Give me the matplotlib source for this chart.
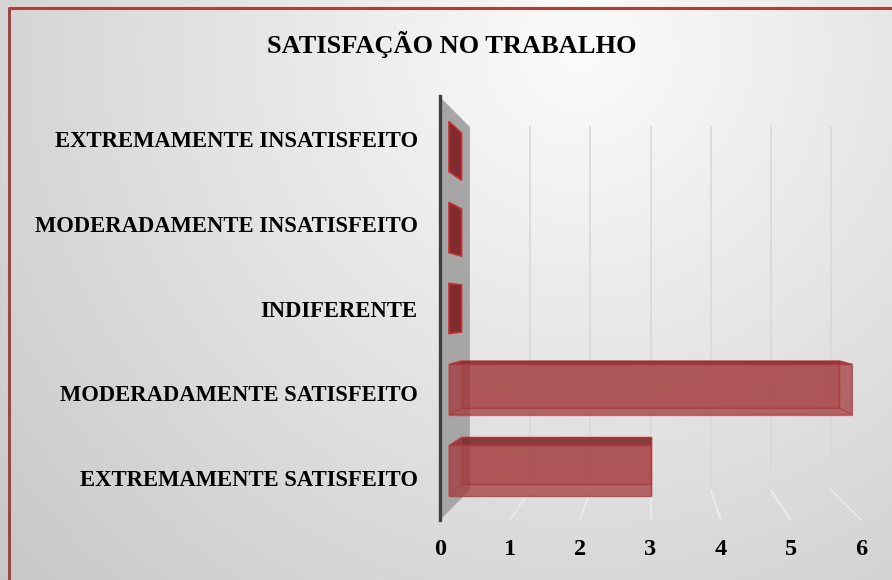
import numpy as np
import matplotlib
matplotlib.use("Agg")
from matplotlib import pyplot as plt
from matplotlib.patches import Polygon

categories = ['EXTREMAMENTE INSATISFEITO', 'MODERADAMENTE INSATISFEITO',
              'INDIFERENTE', 'MODERADAMENTE SATISFEITO', 'EXTREMAMENTE SATISFEITO']
values = [0, 0, 0, 6, 3]
xticks = [0, 1, 2, 3, 4, 5, 6]
title = 'SATISFAÇÃO NO TRABALHO'

plt.rcParams['font.family'] = ['Liberation Serif', 'DejaVu Serif']

W, H = 892, 580
fig = plt.figure(figsize=(W / 100, H / 100), dpi=100)

# background: soft radial gradient
bg = fig.add_axes([0, 0, 1, 1], zorder=-10)
yy, xx = np.mgrid[0:H, 0:W]
r = np.sqrt(((xx - 580) / 620.0) ** 2 + ((yy - 50) / 620.0) ** 2)
shade = np.clip(0.985 - 0.16 * r, 0.78, 1.0)
bg.imshow(np.dstack([shade] * 3), extent=[0, W, H, 0], aspect='auto')
bg.set_xlim(0, W)
bg.set_ylim(H, 0)
bg.axis('off')
bg.plot([9, 9, W + 5], [H + 5, 8, 8], color='#a8423f', lw=2.2, solid_capstyle='butt')

# main axes = front plane of the 3d box
x0, x1, y0, y1 = 440, 861, 97, 520
ax = fig.add_axes([x0 / W, 1 - y1 / H, (x1 - x0) / W, (y1 - y0) / H])
ax.set_facecolor('none')
n = len(categories)
vmax = xticks[-1]
ax.set_xlim(0, vmax)
ax.set_ylim(n - 0.5, -0.5)
for s in ax.spines.values():
    s.set_visible(False)

cx, cy = vmax / 2, (n - 1) / 2
shrink = 0.142


def proj(v, c, d):
    s = 1 - shrink * d
    return (cx + (v - cx) * s, cy + (c - cy) * s)


# side wall
wall = [proj(0, -0.5, 0), proj(0, -0.5, 1), proj(0, n - 0.5, 1), proj(0, n - 0.5, 0)]
ax.add_patch(Polygon(wall, closed=True, facecolor='#a6a6a6', edgecolor='none', zorder=1))
ax.plot([0, 0], [-0.51, n - 0.5], color='#3f3f3f', lw=2.4, zorder=2, clip_on=False)

# gridlines on back wall and floor
for v in xticks[1:]:
    top_pt, bot_pt, front_pt = proj(v, -0.5, 1), proj(v, n - 0.5, 1), proj(v, n - 0.5, 0)
    ax.plot([top_pt[0], bot_pt[0]], [top_pt[1], bot_pt[1]], color='#d9d9d9', lw=1.2, zorder=1)
    ax.plot([bot_pt[0], front_pt[0]], [bot_pt[1], front_pt[1]], color='#ececec', lw=1.2,
            zorder=1)

# bars as translucent boxes
df, db, h = 0.30, 0.72, 0.31
face = (0.63, 0.20, 0.21)
edge = '#b53434'
for i, v in enumerate(values):
    sf, sb = 1 - shrink * df, 1 - shrink * db
    if v == 0:
        side = [proj(0, i - h, df), proj(0, i - h, db), proj(0, i + h, db), proj(0, i + h, df)]
        ax.add_patch(Polygon(side, closed=True, facecolor='#7e2c2e', edgecolor='#c8302f',
                             lw=1.2, zorder=3))
        continue
    # back face
    ax.barh(proj(0, i, db)[1], v * sb, left=proj(0, i, db)[0], height=2 * h * sb,
            color=face, alpha=0.55, edgecolor=edge, lw=1.0, zorder=3)
    # top, bottom, left, right faces
    top = [proj(0, i - h, df), proj(v, i - h, df), proj(v, i - h, db), proj(0, i - h, db)]
    bot = [proj(0, i + h, df), proj(v, i + h, df), proj(v, i + h, db), proj(0, i + h, db)]
    lef = [proj(0, i - h, df), proj(0, i - h, db), proj(0, i + h, db), proj(0, i + h, df)]
    rig = [proj(v, i - h, df), proj(v, i - h, db), proj(v, i + h, db), proj(v, i + h, df)]
    ax.add_patch(Polygon(top, closed=True, facecolor=(0.45, 0.12, 0.13), alpha=0.7,
                         edgecolor=edge, lw=1.0, zorder=4))
    for poly in (bot, lef, rig):
        ax.add_patch(Polygon(poly, closed=True, facecolor=face, alpha=0.35,
                             edgecolor=edge, lw=1.0, zorder=4))
    # front face
    ax.barh(proj(0, i, df)[1], v * sf, left=proj(0, i, df)[0], height=2 * h * sf,
            color=face, alpha=0.55, edgecolor=edge, lw=1.0, zorder=5)

ax.set_xticks(xticks)
ax.set_xticklabels([str(t) for t in xticks], fontsize=17.5, fontweight='bold')
ax.set_yticks(range(n))
ax.set_yticklabels(categories, fontsize=16.3, fontweight='bold')
ax.tick_params(axis='both', length=0)
ax.tick_params(axis='x', pad=14)
ax.tick_params(axis='y', pad=16)

fig.text(452 / W, 1 - 44 / H, title, ha='center', va='center', fontsize=19,
         fontweight='bold')

fig.savefig('out.png', dpi=100)
